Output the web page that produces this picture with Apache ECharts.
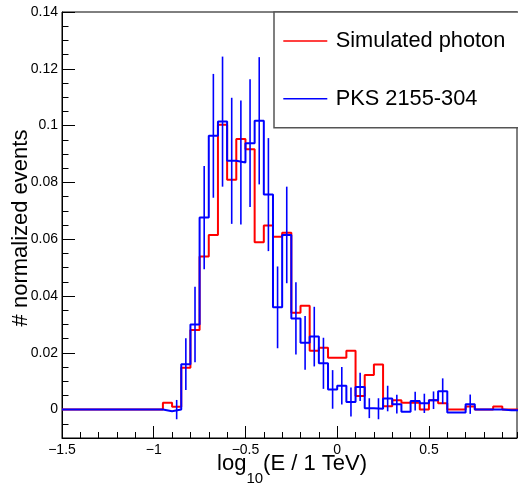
<!DOCTYPE html>
<html>
<head>
<meta charset="utf-8">
<script src="https://cdn.jsdelivr.net/npm/echarts@6.0.0/dist/echarts.min.js"></script>
<style>
html,body{margin:0;padding:0;background:#fff;}
#chart{width:518px;height:489px;}
</style>
</head>
<body>
<div id="chart"></div>
<script>
// ---- data ----
var binEdges = [-1.5,-1.45,-1.4,-1.35,-1.3,-1.25,-1.2,-1.15,-1.1,-1.05,
  -1.0,-0.95,-0.9,-0.85,-0.8,-0.75,-0.7,-0.65,-0.6,-0.55,
  -0.5,-0.45,-0.4,-0.35,-0.3,-0.25,-0.2,-0.15,-0.1,-0.05,
  0.0,0.05,0.1,0.15,0.2,0.25,0.3,0.35,0.4,0.45,
  0.5,0.55,0.6,0.65,0.7,0.75,0.8,0.85,0.9,0.95,1.0];

var simulatedPhoton = [0,0,0,0,0,0,0,0,0,0,
  0,0.0024,0.0010,0.0147,0.0280,0.0539,0.0615,0.1003,0.0809,0.0953,
  0.0917,0.0589,0.0648,0.0609,0.0623,0.0341,0.0366,0.0207,0.0218,0.0183,
  0.0183,0.0207,0.0048,0.0122,0.0159,0.0012,0.0033,0.0024,0.0024,0.0000,
  0.0033,0.0022,0.0000,0.0000,0.0011,0,0,0.0011,0,0];

var pks2155 = [0,0,0,0,0,0,0,0,0,0,
  0,-0.0006,0.0000,0.0160,0.0300,0.0676,0.0964,0.1014,0.0876,0.0870,
  0.0938,0.1017,0.0757,0.0360,0.0615,0.0321,0.0235,0.0257,0.0163,0.0071,
  0.0084,0.0027,0.0080,0.0005,0.0003,0.0039,0.0019,-0.0008,0.0030,0.0022,
  0.0033,0.0065,-0.0010,-0.0010,0.0019,0,0,0,-0.0002,-0.0002];

var pks2155Err = [0,0,0,0,0,0,0,0,0,0,
  0,0,0.0034,0.0091,0.0133,0.0182,0.0218,0.0229,0.0222,0.0218,
  0.0225,0.0224,0.0199,0.0144,0.0170,0.0127,0.0095,0.0105,0.0090,0.0068,
  0.0066,0.0051,0.0050,0.0035,0.0037,0.0045,0.0033,0,0.0033,0.0034,
  0.0031,0.0045,0,0,0.0034,0,0,0,0,0];

var xTickValues = [-1.5,-1,-0.5,0,0.5];
var xTickLabels = ['\u22121.5','\u22121','\u22120.5','0','0.5'];
var yTickValues = [0,0.02,0.04,0.06,0.08,0.1,0.12,0.14];
var yTickLabels = ['0','0.02','0.04','0.06','0.08','0.1','0.12','0.14'];

var xMin = -1.5, xMax = 0.98, yMin = -0.01, yMax = 0.14;
var seriesNames = ['Simulated photon', 'PKS 2155-304'];

// ---- build ----
function histData(vals) {
  var d = [];
  for (var i = 0; i < vals.length; i++) d.push([binEdges[i], vals[i]]);
  d.push([binEdges[vals.length], vals[vals.length - 1]]);
  return d;
}
var errData = [];
for (var i = 0; i < pks2155.length; i++) {
  if (pks2155Err[i] > 0) {
    errData.push([(binEdges[i] + binEdges[i + 1]) / 2, pks2155[i], pks2155Err[i]]);
  }
}

var FONT = '"Liberation Sans", Arial, Helvetica, sans-serif';
var chart = echarts.init(document.getElementById('chart'), null, {renderer: 'canvas'});

chart.setOption({
  animation: false,
  backgroundColor: '#fff',
  grid: {left: 62, right: 1, top: 12, bottom: 51, show: true, borderColor: '#000', borderWidth: 1,
    backgroundColor: 'transparent', containLabel: false, outerBoundsMode: 'none'},
  legend: {
    orient: 'vertical', left: 274, top: 12,
    data: [{name: seriesNames[0], icon: 'rect'}, {name: seriesNames[1], icon: 'rect'}],
    itemWidth: 44, itemHeight: 1.5, itemGap: 35.7,
    padding: [18, 40, 18, 9.3],
    borderColor: '#555', borderWidth: 1.5, backgroundColor: '#fff',
    selectedMode: false,
    itemStyle: {borderWidth: 0},
    textStyle: {fontSize: 21.8, fontFamily: FONT, color: '#000', lineHeight: 22, padding: [0, 0, 0, 3.4]}
  },
  xAxis: [{
    type: 'value', min: xMin, max: xMax, position: 'bottom',
    name: '{a|log}{b|10}{a|(E / 1 TeV)}',
    nameLocation: 'middle', nameGap: 4, nameMoveOverlap: false,
    nameTextStyle: {
      padding: [0, 0, 0, 5],
      rich: {
        a: {fontSize: 22, fontFamily: FONT, color: '#000', lineHeight: 44, verticalAlign: 'middle'},
        b: {fontSize: 15, fontFamily: FONT, color: '#000', lineHeight: 12, verticalAlign: 'bottom'}
      }
    },
    axisLine: {show: true, onZero: false, lineStyle: {color: '#000', width: 1}},
    axisTick: {show: true, inside: true, length: 12, customValues: xTickValues, lineStyle: {color: '#000', width: 1}},
    axisLabel: {show: true, customValues: xTickValues, margin: 5, fontSize: 14, fontFamily: FONT, color: '#000',
      formatter: function (v) { var k = xTickValues.indexOf(Math.round(v * 100) / 100); return k >= 0 ? xTickLabels[k] : ''; }},
    splitLine: {show: false}
  }, {
    type: 'value', min: xMin, max: xMax, interval: 0.1, position: 'bottom', offset: 0,
    axisLine: {show: false, onZero: false},
    axisTick: {show: true, inside: true, length: 6, lineStyle: {color: '#000', width: 1}},
    axisLabel: {show: false},
    splitLine: {show: false}
  }],
  yAxis: [{
    type: 'value', min: yMin, max: yMax, position: 'left',
    name: '# normalized events', nameLocation: 'middle', nameGap: 30, nameRotate: 90, nameMoveOverlap: false,
    nameTextStyle: {fontSize: 22, fontFamily: FONT, color: '#000', padding: [0, 6, 0, 0]},
    axisLine: {show: true, onZero: false, lineStyle: {color: '#000', width: 1}},
    axisTick: {show: true, inside: true, length: 13, customValues: yTickValues, lineStyle: {color: '#000', width: 1}},
    axisLabel: {show: true, customValues: yTickValues, margin: 4, fontSize: 14, fontFamily: FONT, color: '#000',
      formatter: function (v) { var k = yTickValues.indexOf(Math.round(v * 1000) / 1000); return k >= 0 ? yTickLabels[k] : ''; }},
    splitLine: {show: false}
  }, {
    type: 'value', min: yMin, max: yMax, interval: 0.005, position: 'left', offset: 0,
    axisLine: {show: false, onZero: false},
    axisTick: {show: true, inside: true, length: 6.5, lineStyle: {color: '#000', width: 1}},
    axisLabel: {show: false},
    splitLine: {show: false}
  }],
  series: [{
    name: seriesNames[0], type: 'line', step: 'end', xAxisIndex: 0, yAxisIndex: 0,
    data: histData(simulatedPhoton), symbol: 'none', showSymbol: false,
    color: '#ff0000', lineStyle: {color: '#ff0000', width: 2}, z: 3
  }, {
    name: seriesNames[1], type: 'line', step: 'end', xAxisIndex: 0, yAxisIndex: 0,
    data: histData(pks2155), symbol: 'none', showSymbol: false,
    color: '#0000ff', lineStyle: {color: '#0000ff', width: 2}, z: 4
  }, {
    name: 'PKS 2155-304 errors', type: 'custom', xAxisIndex: 0, yAxisIndex: 0,
    data: errData, z: 5,
    renderItem: function (params, api) {
      var x = api.value(0), v = api.value(1), e = api.value(2);
      var p1 = api.coord([x, v - e]), p2 = api.coord([x, v + e]);
      return {type: 'line', shape: {x1: p1[0], y1: p1[1], x2: p2[0], y2: p2[1]},
        style: {stroke: '#0000ff', lineWidth: 1.6}};
    }
  }]
});
</script>
</body>
</html>
